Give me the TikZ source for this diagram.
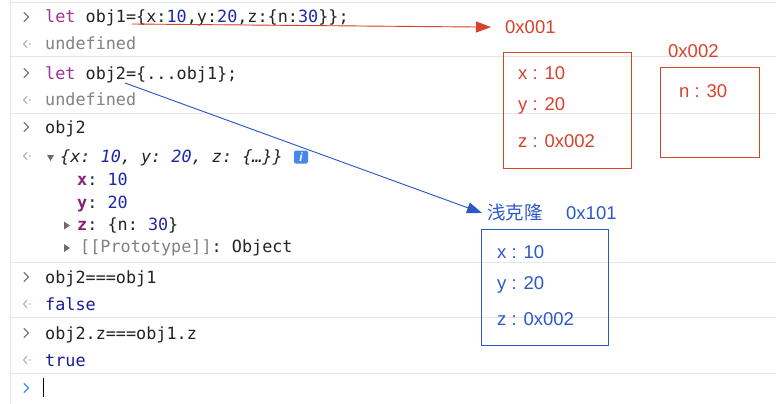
\documentclass[tikz,border=0pt]{standalone}
\usepackage{fontspec}
\setmainfont{Liberation Sans}
\setmonofont{DejaVu Sans Mono}
\newfontfamily\cjk{Noto Sans CJK SC}
\usetikzlibrary{arrows.meta}
\definecolor{sep}{RGB}{230,230,232}
\definecolor{codeblack}{RGB}{35,35,35}
\definecolor{kw}{RGB}{160,50,145}
\definecolor{key}{RGB}{136,30,120}
\definecolor{num}{RGB}{30,40,170}
\definecolor{retgrey}{RGB}{130,130,130}
\definecolor{promptgrey}{RGB}{120,120,120}
\definecolor{bool}{RGB}{25,30,150}
\definecolor{annred}{RGB}{214,66,43}
\definecolor{annblue}{RGB}{45,88,200}
\definecolor{infoblue}{RGB}{70,135,235}
\begin{document}
\begin{tikzpicture}[x=1pt,y=-1pt,
  mono/.style={anchor=base west, inner sep=0pt, font=\ttfamily\fontsize{16.8}{20}\selectfont, text=codeblack},
  ann/.style={anchor=base west, inner sep=0pt, font=\fontsize{18.5}{22}\selectfont},
  sepline/.style={draw=sep, line width=1pt},
  prompt/.style={draw=promptgrey, line width=1.1pt, line cap=round, line join=round},
  retmark/.style={draw=retgrey!70, line width=1pt, line cap=round, line join=round},
  membox/.style={draw, line width=0.9pt, inner sep=0pt},
  annarrow/.style={line width=0.9pt, -{Triangle[length=15pt,width=11pt]}}
]
\useasboundingbox (0,0) rectangle (776,404);
\fill[white] (0,0) rectangle (776,404);

% separators
\foreach \yy in {3,57,113,262,317,373}
  \draw[sepline] (10,\yy) -- (776,\yy);
\draw[sepline] (10,0) -- (10,404);

% prompts
\foreach \yy in {17,73,127,277,333}
  \draw[prompt] (24,\yy-4.5) -- (28.5,\yy) -- (24,\yy+4.5);
\draw[prompt, draw=infoblue] (24,383.5) -- (28.5,388) -- (24,392.5);
% return marks
\foreach \yy in {44,100,156,304,360}{
  \draw[retmark] (27,\yy-3.5) -- (23.5,\yy) -- (27,\yy+3.5);
  \fill[retgrey!70] (30,\yy) circle (0.9pt);
}

% code lines
\node[mono] (l1) at (45,23) {{\color{kw}let} obj1=\{x:{\color{num}10},y:{\color{num}20},z:\{n:{\color{num}30}\}\};};
\node[mono, text=retgrey] (l2) at (45,50) {undefined};
\node[mono] (l3) at (45,79) {{\color{kw}let} obj2=\{...obj1\};};
\node[mono, text=retgrey] (l4) at (45,105) {undefined};
\node[mono] (l5) at (45,133) {obj2};
\fill[promptgrey!90!black] (47,155) -- (54,155) -- (50.5,161) -- cycle;
\node[mono, font=\ttfamily\itshape\fontsize{16.8}{20}\selectfont] (l6) at (60,162) {\{x: {\color{num}10}, y: {\color{num}20}, z: \{…\}\}};
\node[fill=infoblue, rounded corners=2pt, minimum width=14pt, minimum height=13pt, inner sep=0pt, text=white, font=\bfseries\itshape\fontsize{12}{12}\selectfont] (info) at (301,157) {i};
\node[mono] (l7) at (77,185) {{\color{key}\bfseries x}: {\color{num}10}};
\node[mono] (l8) at (77,208) {{\color{key}\bfseries y}: {\color{num}20}};
\fill[promptgrey!90!black] (64,221.5) -- (70,225.5) -- (64,229.5) -- cycle;
\node[mono] (l9) at (77,230) {{\color{key}\bfseries z}: \{n: {\color{num}30}\}};
\fill[promptgrey!90!black] (64,244) -- (70,248) -- (64,252) -- cycle;
\node[mono] (l10) at (80,252) {{\color{retgrey}[[Prototype]]}: Object};
\node[mono] (l11) at (45,283) {obj2===obj1};
\node[mono, text=bool] (l12) at (45,310) {false};
\node[mono] (l13) at (45,339) {obj2.z===obj1.z};
\node[mono, text=bool] (l14) at (45,366) {true};
\draw[black, line width=1.2pt] (43.5,378) -- (43.5,397);

% red memory boxes
\node[membox, draw=annred, minimum width=128pt, minimum height=116pt] (box1) at (567,110) {};
\node[membox, draw=annred, minimum width=99pt, minimum height=90pt] (box2) at (709.5,112) {};
\node[ann, text=annred] (a1) at (505,34) {0x001};
\node[ann, text=annred] (a2) at (668,58) {0x002};
\node[ann, text=annred] (r1) at (518,80) {x : 10};
\node[ann, text=annred] (r2) at (518,110) {y : 20};
\node[ann, text=annred] (r3) at (518,147) {z : 0x002};
\node[ann, text=annred] (r4) at (679,97) {n : 30};

% blue memory box
\node[membox, draw=annblue, minimum width=127pt, minimum height=116pt] (box3) at (544.5,287) {};
\node[ann, text=annblue, font=\cjk\fontsize{18.5}{22}\selectfont] (b1) at (487,219) {浅克隆};
\node[ann, text=annblue] (b2) at (566,219) {0x101};
\node[ann, text=annblue] (s1) at (497,258) {x : 10};
\node[ann, text=annblue] (s2) at (497,289) {y : 20};
\node[ann, text=annblue] (s3) at (497,325) {z : 0x002};

% arrows
\coordinate (r0) at (132,24);
\draw[annarrow, draw=annred, fill=annred] (r0) -- ([xshift=-14pt,yshift=0.5pt]a1.west);
\coordinate (b0) at (125,83);
\draw[annarrow, draw=annblue, fill=annblue] (b0) -- ([xshift=-5pt,yshift=-1pt]b1.west);
\end{tikzpicture}
\end{document}
